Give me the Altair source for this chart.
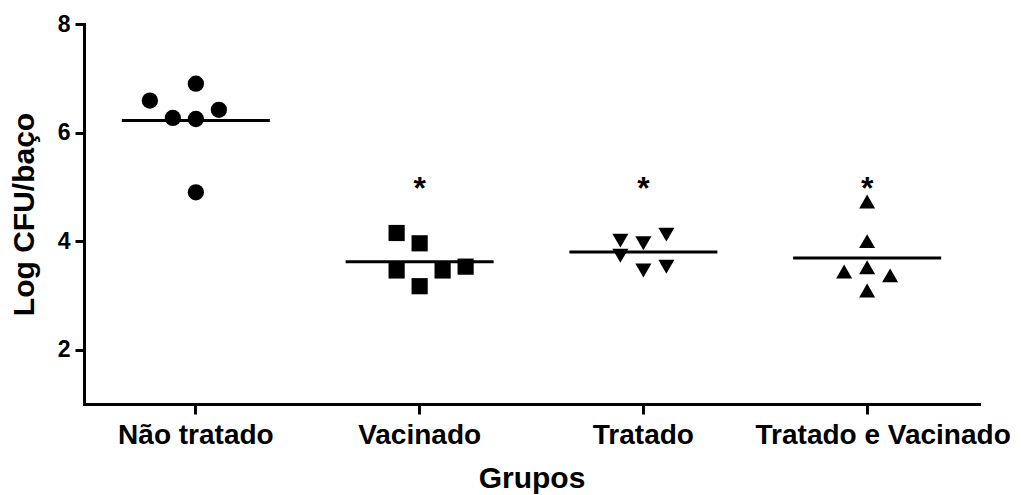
import altair as alt
import pandas as pd

# Groups on the x axis and the marker used for each one
groups = ["Não tratado", "Vacinado", "Tratado", "Tratado e Vacinado"]
shapes = ["circle", "square", "triangle-down", "triangle-up"]
marker_sizes = [265, 256, 270, 270]

# Log CFU per spleen, one value per animal, and its horizontal slot in the column
nao_tratado = [6.59, 6.90, 6.27, 6.25, 6.42, 4.90]
nao_tratado_slot = [-2, 0, -1, 0, 1, 0]
vacinado = [4.15, 3.96, 3.46, 3.46, 3.53, 3.17]
vacinado_slot = [-1, 0, -1, 1, 2, 0]
tratado = [4.01, 3.96, 4.12, 3.73, 3.46, 3.53]
tratado_slot = [-1, 0, 1, -1, 0, 1]
tratado_vacinado = [4.73, 4.00, 3.44, 3.52, 3.37, 3.09]
tratado_vacinado_slot = [0, 0, -1, 0, 1, 0]

# Significance marks
asterisk_groups = ["Vacinado", "Tratado", "Tratado e Vacinado"]
asterisk_level = [5.13, 5.13, 5.13]

y_ticks = [2, 4, 6, 8]

rows = []
for g, vals, slots in zip(
    groups,
    [nao_tratado, vacinado, tratado, tratado_vacinado],
    [nao_tratado_slot, vacinado_slot, tratado_slot, tratado_vacinado_slot],
):
    for v, s in zip(vals, slots):
        rows.append({"group": g, "value": v, "slot": s})
points = pd.DataFrame(rows)
stars = pd.DataFrame({"group": asterisk_groups, "value": asterisk_level})

FONT = "Liberation Sans"
W, H = 895, 380

x_scale = alt.Scale(type="band", domain=groups, paddingInner=0, paddingOuter=0)
y_scale = alt.Scale(domain=[1, 8], nice=False, zero=False)

x_axis = alt.Axis(
    title="Grupos",
    labelAngle=0,
    labelAlign="center",
    labelBaseline="alphabetic",
    labelFont=FONT,
    labelFontSize=28,
    labelFontWeight="bold",
    labelColor="black",
    labelPadding=29,
    labelLimit=0,
    labelOverlap=False,
    labelOffset={
        "condition": {"test": "datum.value === 'Tratado e Vacinado'", "value": 16},
        "value": 0,
    },
    tickSize=10,
    tickWidth=3,
    tickColor="black",
    domainWidth=3,
    domainColor="black",
    domainCap="square",
    titleFont=FONT,
    titleFontSize=30,
    titleFontWeight="bold",
    titleColor="black",
    titleBaseline="alphabetic",
    titleY=83,
    grid=False,
)

y_axis = alt.Axis(
    title="Log CFU/baço",
    values=y_ticks,
    format="d",
    labelFont=FONT,
    labelFontSize=23,
    labelFontWeight="bold",
    labelColor="black",
    labelPadding=5,
    tickSize=9,
    tickWidth=3,
    tickColor="black",
    domainWidth=3,
    domainColor="black",
    domainCap="square",
    titleFont=FONT,
    titleFontSize=30,
    titleFontWeight="bold",
    titleColor="black",
    titleBaseline="alphabetic",
    titleX=-51,
    grid=False,
)

dots = alt.Chart(points).mark_point(filled=True, opacity=1, color="black").encode(
    x=alt.X("group:N", scale=x_scale, axis=x_axis),
    xOffset=alt.XOffset("slot:Q", scale=alt.Scale(domain=[-4.866, 4.866])),
    y=alt.Y("value:Q", scale=y_scale, axis=y_axis),
    shape=alt.Shape("group:N", scale=alt.Scale(domain=groups, range=shapes), legend=None),
    size=alt.Size("group:N", scale=alt.Scale(domain=groups, range=marker_sizes), legend=None),
)

means = alt.Chart(points).mark_tick(color="black", thickness=3, size=148, opacity=1).encode(
    x=alt.X("group:N", scale=x_scale),
    y=alt.Y("mean(value):Q", scale=y_scale),
)

asterisks = alt.Chart(stars).mark_text(
    text="*", font=FONT, fontSize=32, fontWeight="bold", color="black",
    baseline="alphabetic", dy=19,
).encode(
    x=alt.X("group:N", scale=x_scale),
    y=alt.Y("value:Q", scale=y_scale),
)

chart = (
    alt.layer(means, dots, asterisks)
    .properties(
        width=W,
        height=H,
        padding={"left": 84, "top": 24, "right": 42, "bottom": 91},
        autosize=alt.AutoSizeParams(type="none"),
        background="white",
    )
    .configure_view(stroke=None)
)

chart.save("out.html", embed_options={"renderer": "svg", "actions": False})
